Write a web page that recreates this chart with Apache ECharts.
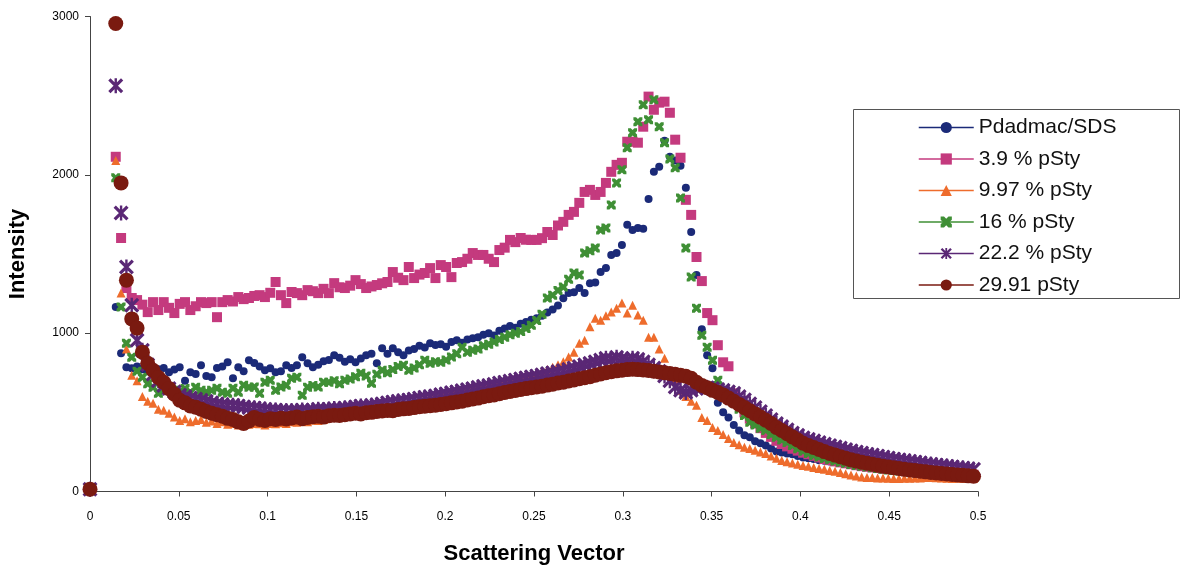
<!DOCTYPE html>
<html>
<head>
<meta charset="utf-8">
<title>Scattering Intensity</title>
<script src="https://cdn.jsdelivr.net/npm/echarts@6/dist/echarts.min.js"></script>
<style>
  html, body { margin: 0; padding: 0; background: #ffffff; }
  #chart { width: 1182px; height: 568px; }
</style>
</head>
<body>
<div id="chart"></div>
<script>
// Scattering vector (shared by all samples)
const q = [0,
  0.0145,0.0175,0.0205,0.0235,0.0265,0.0295,0.0325,0.0355,0.0385,0.0415,
  0.0445,0.0475,0.0505,0.0535,0.0565,0.0595,0.0625,0.0655,0.0685,0.0715,
  0.0745,0.0775,0.0805,0.0835,0.0865,0.0895,0.0925,0.0955,0.0985,0.1015,
  0.1045,0.1075,0.1105,0.1135,0.1165,0.1195,0.1225,0.1255,0.1285,0.1315,
  0.1345,0.1375,0.1405,0.1435,0.1465,0.1495,0.1525,0.1555,0.1585,0.1615,
  0.1645,0.1675,0.1705,0.1735,0.1765,0.1795,0.1825,0.1855,0.1885,0.1915,
  0.1945,0.1975,0.2005,0.2035,0.2065,0.2095,0.2125,0.2155,0.2185,0.2215,
  0.2245,0.2275,0.2305,0.2335,0.2365,0.2395,0.2425,0.2455,0.2485,0.2515,
  0.2545,0.2575,0.2605,0.2635,0.2665,0.2695,0.2725,0.2755,0.2785,0.2815,
  0.2845,0.2875,0.2905,0.2935,0.2965,0.2995,0.3025,0.3055,0.3085,0.3115,
  0.3145,0.3175,0.3205,0.3235,0.3265,0.3295,0.3325,0.3355,0.3385,0.3415,
  0.3445,0.3475,0.3505,0.3535,0.3565,0.3595,0.3625,0.3655,0.3685,0.3715,
  0.3745,0.3775,0.3805,0.3835,0.3865,0.3895,0.3925,0.3955,0.3985,0.4015,
  0.4045,0.4075,0.4105,0.4135,0.4165,0.4195,0.4225,0.4255,0.4285,0.4315,
  0.4345,0.4375,0.4405,0.4435,0.4465,0.4495,0.4525,0.4555,0.4585,0.4615,
  0.4645,0.4675,0.4705,0.4735,0.4765,0.4795,0.4825,0.4855,0.4885,0.4915,
  0.4945,0.4975];

// Intensity per sample, one value per q
const pdadmacSds = [10,
  1165,873,785,778,790,772,760,785,772,780,
  753,770,785,700,753,742,797,730,722,780,
  790,816,715,785,760,829,812,790,766,778,
  753,760,797,780,797,848,810,785,800,822,
  830,861,845,820,835,816,840,860,870,810,
  905,870,905,880,860,890,900,920,910,937,
  925,930,915,945,955,940,960,968,975,990,
  1000,985,1015,1030,1045,1035,1060,1070,1085,1095,
  1110,1130,1150,1175,1220,1253,1259,1285,1253,1316,
  1320,1386,1411,1494,1506,1557,1684,1652,1665,1660,
  1848,2019,2051,2215,2114,2090,2057,1918,1639,1367,
  1025,860,778,560,500,468,420,386,355,342,
  318,304,290,272,252,247,240,236,225,215,
  210,205,198,195,190,186,180,178,172,170,
  165,162,160,156,152,150,147,145,142,140,
  137,135,133,130,128,126,124,122,120,118,
  116,113];

const psty39 = [12,
  2114,1601,1285,1222,1209,1180,1133,1196,1146,1196,
  1160,1127,1185,1196,1146,1170,1196,1190,1196,1101,
  1196,1209,1200,1228,1215,1222,1235,1240,1228,1255,
  1323,1240,1190,1260,1253,1240,1272,1265,1253,1280,
  1253,1316,1290,1285,1300,1335,1310,1285,1295,1304,
  1315,1323,1386,1350,1335,1418,1348,1370,1380,1411,
  1348,1430,1418,1354,1443,1449,1470,1506,1494,1494,
  1470,1449,1525,1540,1589,1575,1601,1590,1589,1589,
  1600,1639,1620,1680,1703,1747,1766,1823,1892,1905,
  1873,1892,1949,2019,2063,2076,2209,2209,2203,2304,
  2494,2411,2456,2462,2392,2222,2108,1842,1747,1481,
  1329,1127,1082,924,816,791,620,560,500,460,
  430,400,370,345,320,300,285,270,258,245,
  235,225,215,205,198,190,184,178,172,166,
  160,156,152,148,145,142,139,136,133,130,
  128,126,124,122,120,118,116,114,112,110,
  108,106];

const psty997 = [8,
  2090,1253,900,734,700,600,570,557,520,513,
  494,470,449,460,440,449,455,438,445,430,
  440,425,430,420,418,425,430,428,420,430,
  428,435,430,440,438,445,440,450,448,455,
  470,468,478,482,485,492,498,505,512,520,
  528,540,548,555,560,570,580,588,595,605,
  612,620,628,635,642,650,658,665,672,680,
  688,695,700,708,715,722,730,738,745,752,
  760,770,785,800,820,850,880,937,956,1040,
  1095,1082,1110,1133,1158,1190,1127,1177,1114,1082,
  975,975,900,842,760,700,640,600,570,544,
  468,449,405,386,360,335,310,295,280,272,
  260,250,240,225,210,196,188,180,172,165,
  160,152,145,140,133,128,120,112,105,98,
  92,89,88,86,85,84,82,82,83,84,
  85,86,88,89,87,85,84,82,83,82,
  84,82];

const psty16 = [10,
  1981,1165,937,848,760,722,680,658,620,640,
  658,640,627,650,627,658,639,628,639,652,
  627,620,652,627,671,658,660,620,690,703,
  639,660,671,715,722,608,658,670,660,690,
  690,700,680,703,710,725,747,730,684,740,
  766,750,770,790,797,766,780,800,829,810,
  820,816,830,850,870,911,880,892,900,920,
  930,945,960,975,990,1000,1010,1030,1050,1080,
  1120,1222,1240,1270,1291,1340,1380,1367,1506,1520,
  1538,1652,1665,1810,1949,2032,2171,2266,2335,2443,
  2348,2475,2304,2203,2100,2044,1854,1538,1354,1158,
  987,911,829,703,640,600,560,520,480,437,
  420,400,386,360,342,325,310,290,270,255,
  240,228,218,208,200,192,185,178,170,165,
  160,155,150,145,140,136,132,129,126,123,
  120,118,116,114,112,110,108,106,105,103,
  102,100];

const psty222 = [15,
  2563,1759,1418,1177,956,892,800,740,700,670,
  650,630,610,600,590,585,576,570,560,555,
  550,545,544,540,535,530,528,525,520,515,
  515,512,510,510,512,515,510,515,520,518,
  520,525,522,528,530,535,540,538,545,548,
  555,560,565,570,575,578,585,590,595,600,
  605,612,618,625,630,638,645,650,658,665,
  670,678,685,690,698,705,712,718,725,730,
  738,745,750,758,765,772,780,790,800,810,
  820,830,842,835,848,840,830,842,835,820,
  800,780,760,730,700,660,639,626,640,650,
  660,655,650,645,640,630,620,600,580,555,
  530,505,480,455,430,410,390,370,355,340,
  330,320,310,300,290,282,274,266,258,250,
  243,236,230,224,218,212,206,201,196,191,
  186,181,176,172,168,164,160,156,152,148,
  144,140];

const psty2991 = [15,
  2956,1949,1335,1090,1032,880,810,766,720,690,
  650,615,576,560,540,532,520,505,494,485,
  475,462,455,440,430,445,468,455,448,460,
  455,462,458,465,470,460,468,472,475,470,
  478,482,480,485,490,494,490,498,500,505,
  508,512,510,518,522,525,530,535,538,542,
  545,550,555,560,566,570,578,585,590,598,
  605,610,618,625,632,638,645,650,655,660,
  665,672,678,685,690,698,705,712,718,725,
  735,742,750,756,762,766,770,772,770,768,
  765,760,755,750,745,740,735,728,715,690,
  670,655,639,625,610,590,570,550,530,510,
  490,470,450,430,405,385,365,345,325,305,
  290,278,265,252,240,230,220,210,200,192,
  185,178,172,166,160,155,150,145,140,136,
  132,128,124,120,117,114,111,108,105,102,
  99,96];

const seriesNames = ['Pdadmac/SDS', '3.9 % pSty', '9.97 % pSty', '16 % pSty', '22.2 % pSty', '29.91 pSty'];
const seriesValues = [pdadmacSds, psty39, psty997, psty16, psty222, psty2991];

const xTickLabels = ['0', '0.05', '0.1', '0.15', '0.2', '0.25', '0.3', '0.35', '0.4', '0.45', '0.5'];
const yTickLabels = ['0', '1000', '2000', '3000'];

// Marker look for each sample
const CROSS = 'path://M0,0 L3,0 L5,2 L7,0 L10,0 L10,3 L8,5 L10,7 L10,10 L7,10 L5,8 L3,10 L0,10 L0,7 L2,5 L0,3 Z';
const STAR = 'path://M0,1.5 L1.5,0 L10,8.5 L8.5,10 Z M10,1.5 L1.5,10 L0,8.5 L8.5,0 Z M4.2,0 L5.8,0 L5.8,10 L4.2,10 Z';
const markers = [
  { color: '#1b2a78', symbol: 'circle',   size: 8 },
  { color: '#c43a7e', symbol: 'rect',     size: 10 },
  { color: '#ee6c2c', symbol: 'triangle', size: 9 },
  { color: '#3f8f35', symbol: CROSS,      size: 9 },
  { color: '#5a2775', symbol: STAR,       size: 15 },
  { color: '#7a1a10', symbol: 'circle',   size: 15 }
];

const FONT = "'Liberation Sans', Arial, sans-serif";

const series = seriesNames.map((name, k) => ({
  name: name,
  type: 'line',
  data: q.map((x, i) => [x, seriesValues[k][i]]),
  symbol: markers[k].symbol,
  symbolSize: markers[k].size,
  showSymbol: true,
  lineStyle: { width: 0, opacity: 0 },
  itemStyle: { color: markers[k].color, borderWidth: 0, opacity: 1 },
  emphasis: { disabled: true },
  silent: true,
  animation: false
}));

const chart = echarts.init(document.getElementById('chart'), null, { renderer: 'canvas' });
chart.setOption({
  backgroundColor: '#ffffff',
  animation: false,
  grid: { left: 90, right: 204, top: 16.5, bottom: 76.5, containLabel: false, outerBoundsMode: 'none' },
  xAxis: {
    type: 'value', min: 0, max: 0.5, interval: 0.05,
    name: 'Scattering Vector', nameLocation: 'middle', nameGap: 51,
    nameTextStyle: { fontFamily: FONT, fontWeight: 'bold', fontSize: 22, color: '#000' },
    axisLine: { show: true, onZero: false, lineStyle: { color: '#444', width: 1 } },
    axisTick: { show: true, inside: false, length: 5, lineStyle: { color: '#444', width: 1 } },
    axisLabel: {
      margin: 19, fontFamily: FONT, fontSize: 12, color: '#000',
      formatter: v => xTickLabels[Math.round(v / 0.05)]
    },
    splitLine: { show: false }
  },
  yAxis: {
    type: 'value', min: 0, max: 3000, interval: 1000,
    name: 'Intensity', nameLocation: 'middle', nameGap: 61,
    nameTextStyle: { fontFamily: FONT, fontWeight: 'bold', fontSize: 22, color: '#000' },
    axisLine: { show: true, onZero: false, lineStyle: { color: '#444', width: 1 } },
    axisTick: { show: true, inside: false, length: 5, lineStyle: { color: '#444', width: 1 } },
    axisLabel: {
      margin: 11, fontFamily: FONT, fontSize: 12, color: '#000',
      formatter: v => yTickLabels[Math.round(v / 1000)]
    },
    splitLine: { show: false }
  },
  legend: {
    orient: 'vertical', left: 913, top: 112,
    itemWidth: 55, itemHeight: 14, itemGap: 10.5,
    selectedMode: false,
    textStyle: { fontFamily: FONT, fontSize: 21, color: '#111' },
    lineStyle: { width: 1.5, opacity: 1 },
    data: seriesNames
  },
  graphic: [{
    type: 'rect', left: 851, top: 107, silent: true,
    shape: { width: 326, height: 189 },
    style: { fill: 'none', stroke: '#555', lineWidth: 1 }
  }],
  series: series
});
</script>
</body>
</html>
